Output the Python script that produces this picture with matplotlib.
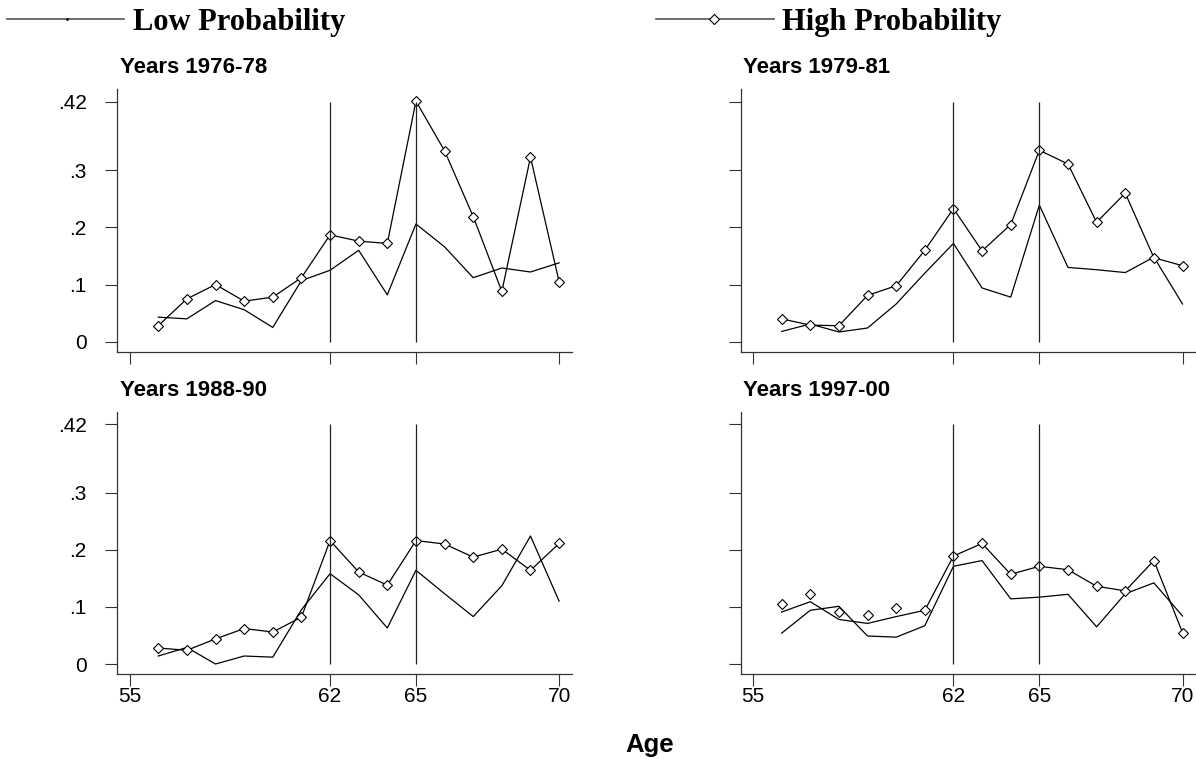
"""Retirement hazard by age, low vs high probability groups"""

import matplotlib.pyplot as plt
from matplotlib.lines import Line2D

ages = [56, 57, 58, 59, 60, 61, 62, 63, 64, 65, 66, 67, 68, 69, 70]

titles = ["Years 1976-78", "Years 1979-81", "Years 1988-90", "Years 1997-00"]

low_7678 = [0.043, 0.040, 0.072, 0.056, 0.025, 0.107, 0.125, 0.160, 0.082, 0.206, 0.166, 0.112, 0.129, 0.122, 0.138]
high_7678 = [0.028, 0.075, 0.100, 0.071, 0.078, 0.112, 0.187, 0.176, 0.172, 0.421, 0.334, 0.219, 0.088, 0.323, 0.105]

low_7981 = [0.018, 0.031, 0.017, 0.024, 0.066, 0.120, 0.172, 0.094, 0.078, 0.239, 0.130, 0.126, 0.121, 0.148, 0.066]
high_7981 = [0.040, 0.029, 0.028, 0.081, 0.098, 0.160, 0.233, 0.159, 0.205, 0.335, 0.311, 0.209, 0.260, 0.147, 0.133]

low_8890 = [0.014, 0.029, 0.000, 0.014, 0.012, 0.095, 0.158, 0.121, 0.063, 0.164, 0.123, 0.083, 0.137, 0.224, 0.110]
high_8890 = [0.028, 0.024, 0.044, 0.062, 0.056, 0.082, 0.216, 0.161, 0.138, 0.216, 0.210, 0.187, 0.201, 0.164, 0.211]

low_9700 = [0.054, 0.094, 0.101, 0.049, 0.047, 0.067, 0.171, 0.181, 0.114, 0.117, 0.122, 0.065, 0.123, 0.142, 0.084]
high_9700 = [0.105, 0.123, 0.091, 0.085, 0.098, 0.094, 0.189, 0.211, 0.157, 0.171, 0.165, 0.136, 0.128, 0.181, 0.055]
# in this panel the connecting line does not pass through the first markers
high_line_9700 = [0.091, 0.109, 0.078, 0.071, 0.083, 0.094, 0.189, 0.211, 0.157, 0.171, 0.165, 0.136, 0.128, 0.181, 0.055]

low_series = [low_7678, low_7981, low_8890, low_9700]
high_series = [high_7678, high_7981, high_8890, high_9700]
high_lines = [high_7678, high_7981, high_8890, high_line_9700]

x_ticks = [55, 62, 65, 70]
x_ticklabels = ["55", "62", "65", "70"]
y_ticks = [0, 0.1, 0.2, 0.3, 0.42]
y_ticklabels = ["0", ".1", ".2", ".3", ".42"]
cutoffs = [62, 65]

W, H = 1196, 759
fig = plt.figure(figsize=(W / 100, H / 100), dpi=100)
sans = ["Liberation Sans", "DejaVu Sans"]
serif = ["Liberation Serif", "DejaVu Serif"]
axis_col = "#333333"

# panel boxes in pixels: left, top, right, bottom
boxes = [(117.3, 89.3, 572.0, 352.0), (740.7, 89.3, 1195.4, 352.0),
         (117.3, 411.6, 572.0, 674.3), (740.7, 411.6, 1195.4, 674.3)]

for i, (l, t, r, b) in enumerate(boxes):
    ax = fig.add_axes([l / W, 1 - b / H, (r - l) / W, (b - t) / H])
    ax.plot(ages, low_series[i], color="black", lw=0.9)
    ax.plot(ages, high_lines[i], color="black", lw=0.9)
    ax.plot(ages, high_series[i], ls="none", marker="D", ms=5.5, mfc="white",
            mec="black", mew=0.8)
    ax.vlines(cutoffs, 0, 0.42, color="#222222", lw=0.9)
    ax.set_xlim(54.57, 70.45)
    ax.set_ylim(-0.018, 0.4417)
    for side in ["top", "right"]:
        ax.spines[side].set_visible(False)
    for side in ["left", "bottom"]:
        ax.spines[side].set_color(axis_col)
        ax.spines[side].set_linewidth(0.9)
    ax.set_xticks(x_ticks)
    ax.set_yticks(y_ticks)
    ax.tick_params(axis="both", direction="out", length=8.6, width=0.8,
                   color=axis_col, labelsize=15)
    ax.tick_params(axis="y", pad=13.5)
    ax.tick_params(axis="x", pad=0.5)
    if i >= 2:
        ax.set_xticklabels(x_ticklabels, family=sans)
    else:
        ax.set_xticklabels([])
    if i % 2 == 0:
        ax.set_yticklabels(y_ticklabels, family=sans)
    else:
        ax.set_yticklabels([])
    fig.text((l + 2.7) / W, 1 - (t - 16) / H, titles[i], family=sans,
             fontsize=16, fontweight="bold", va="baseline", ha="left")

# legend across the top
fig.add_artist(Line2D([7 / W, 124 / W], [1 - 19.3 / H] * 2, color="#555555",
                      lw=1.2, transform=fig.transFigure))
fig.add_artist(Line2D([67 / W], [1 - 19.3 / H], color="black", marker=".",
                      ms=2, transform=fig.transFigure))
fig.text(133 / W, 1 - 30 / H, "Low Probability", family=serif, fontsize=22,
         fontweight="bold", va="baseline", ha="left")
fig.add_artist(Line2D([656 / W, 774 / W], [1 - 19.3 / H] * 2, color="#555555",
                      lw=1.2, transform=fig.transFigure))
fig.add_artist(Line2D([714 / W], [1 - 19.3 / H], ls="none", marker="D", ms=5,
                      mfc="white", mec="black", mew=0.8,
                      transform=fig.transFigure))
fig.text(782 / W, 1 - 30 / H, "High Probability", family=serif, fontsize=22,
         fontweight="bold", va="baseline", ha="left")

fig.text(650 / W, 1 - 751.7 / H, "Age", family=sans, fontsize=18.5,
         fontweight="bold", va="baseline", ha="center")

fig.savefig("out.png", dpi=100)
